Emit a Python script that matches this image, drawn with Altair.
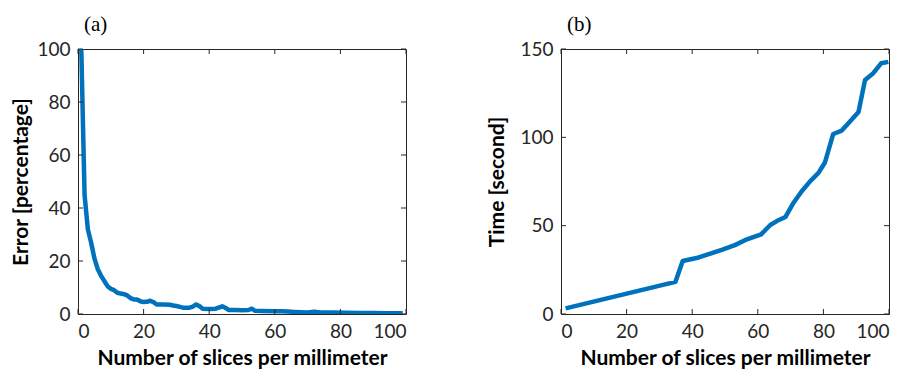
import altair as alt
import pandas as pd

# ---- data ----
err_x = [1, 2, 3, 4, 5, 6, 7, 8, 9, 10, 11, 12, 13, 14, 15, 16, 17, 18, 19, 20,
         21, 22, 23, 24, 26, 28, 29, 30, 32, 34, 35, 36, 37, 38, 40, 42, 44, 45,
         46, 48, 50, 52, 53, 54, 56, 60, 62, 64, 66, 68, 70, 72, 74, 78, 82, 86,
         90, 94, 99]
err_y = [100, 45, 32, 27, 21, 17, 14.5, 12.5, 10.5, 9.5, 9, 8, 7.7, 7.5, 7, 6,
         5.5, 5.5, 4.8, 4.5, 4.6, 5, 4.5, 3.6, 3.6, 3.5, 3.2, 3.0, 2.4, 2.4, 2.8,
         3.6, 3.0, 2.0, 1.9, 2.0, 2.9, 2.3, 1.5, 1.5, 1.4, 1.5, 2.0, 1.2, 1.1, 1.0,
         1.0, 0.9, 0.8, 0.7, 0.6, 0.9, 0.6, 0.6, 0.5, 0.4, 0.4, 0.3, 0.3]

time_x = [1.4, 34.9, 37.1, 42, 49, 53, 56.7, 61, 63.8, 65.8, 68.4, 70.9, 73.4,
          76, 78.5, 80.5, 83, 85.6, 88.1, 90.7, 92.7, 95.2, 97.6, 99.8]
time_y = [3.2, 18.2, 30, 32, 36.3, 39, 42.3, 45.1, 50.4, 52.6, 54.9, 63, 69.5,
          75.2, 79.9, 85.9, 101.9, 103.8, 109, 114.3, 132.5, 136.3, 141.9, 142.7]

x_ticks = [0, 20, 40, 60, 80, 100]
err_ticks = [0, 20, 40, 60, 80, 100]
time_ticks = [0, 50, 100, 150]

W, H = 328, 265
BLUE = "#0072BD"
INK = "#262626"
TICK = 5


def panel(xs, ys, yticks, ymax, ytitle, label, title_pad):
    df = pd.DataFrame({"x": xs, "y": ys})
    xscale = alt.Scale(domain=[0, 100], nice=False, zero=False)
    yscale = alt.Scale(domain=[0, ymax], nice=False, zero=False)
    xaxis = alt.Axis(values=x_ticks, title="Number of slices per millimeter",
                     tickSize=0, labelPadding=8, titlePadding=6, grid=False,
                     domain=False)
    yaxis = alt.Axis(values=yticks, title=ytitle, tickSize=0, labelPadding=8,
                     titlePadding=title_pad, grid=False, domain=False)
    line = alt.Chart(df).mark_line(
        color=BLUE, strokeWidth=4.5, clip=True, strokeJoin="round", strokeCap="butt"
    ).encode(
        x=alt.X("x:Q", scale=xscale, axis=xaxis),
        y=alt.Y("y:Q", scale=yscale, axis=yaxis),
    )
    xt = pd.DataFrame({"x": x_ticks})
    yt = pd.DataFrame({"y": yticks})
    rule = dict(color=INK, strokeWidth=1)
    xb = alt.Chart(xt).mark_rule(**rule).encode(
        x=alt.X("x:Q", scale=xscale, axis=xaxis), y=alt.value(H), y2=alt.value(H - TICK))
    xtop = alt.Chart(xt).mark_rule(**rule).encode(
        x=alt.X("x:Q", scale=xscale, axis=xaxis), y=alt.value(0), y2=alt.value(TICK))
    yl = alt.Chart(yt).mark_rule(**rule).encode(
        y=alt.Y("y:Q", scale=yscale, axis=yaxis), x=alt.value(0), x2=alt.value(TICK))
    yr = alt.Chart(yt).mark_rule(**rule).encode(
        y=alt.Y("y:Q", scale=yscale, axis=yaxis), x=alt.value(W), x2=alt.value(W - TICK))
    return alt.layer(line, xb, xtop, yl, yr).properties(
        width=W, height=H,
        title=alt.TitleParams(label, anchor="start", frame="group",
                              font="Liberation Serif", fontSize=21,
                              fontWeight="normal", dx=6, offset=5, color="black"),
    )


a = panel(err_x, err_y, err_ticks, 100, "Error [percentage]", "(a)", 5)
b = panel(time_x, time_y, time_ticks, 150, "Time [second]", "(b)", 12)

chart = alt.hconcat(a, b, spacing=79).configure(
    padding={"left": 2, "top": 5, "right": 5, "bottom": 5}
).configure_view(
    stroke=INK, strokeWidth=1
).configure_axis(
    labelFont="Lato", labelFontSize=19, labelColor=INK,
    titleFont="Lato", titleFontSize=21, titleFontWeight="bold", titleColor="black",
)

chart.save("out.html", embed_options={"renderer": "svg", "actions": False})
